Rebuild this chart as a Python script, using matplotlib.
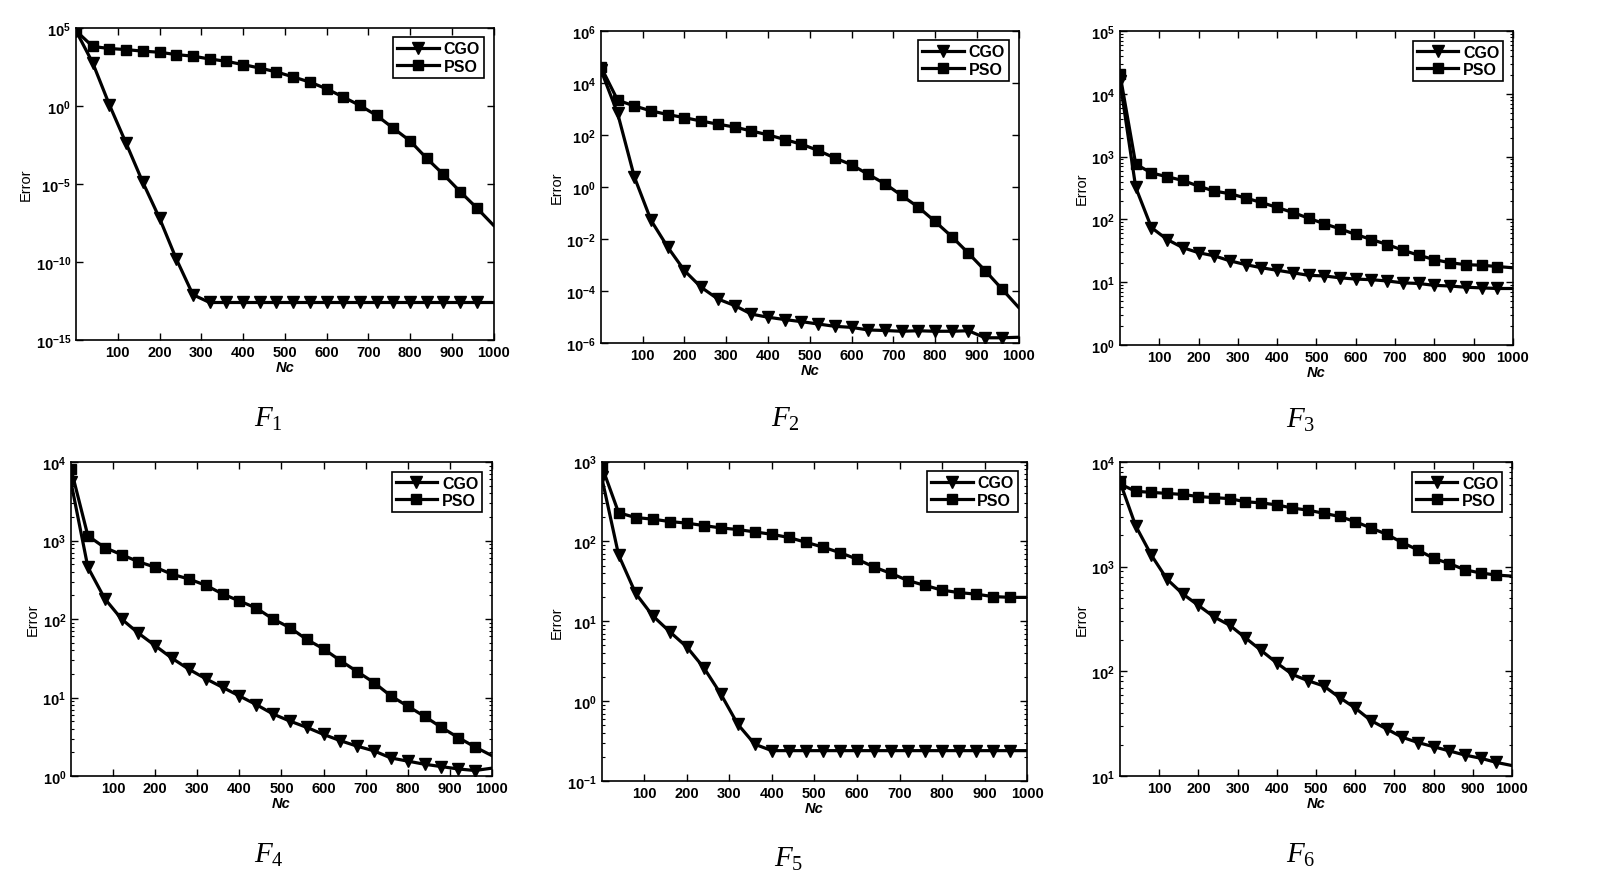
import numpy as np
import matplotlib
matplotlib.use("Agg")
import matplotlib.pyplot as plt
from matplotlib.ticker import FixedLocator, FuncFormatter, NullLocator, LogLocator

plt.rcParams['font.family'] = ['Liberation Sans', 'DejaVu Sans']
plt.rcParams['mathtext.fontset'] = 'custom'
plt.rcParams['mathtext.bf'] = 'Liberation Sans:bold'
plt.rcParams['mathtext.it'] = 'Liberation Serif:italic'
plt.rcParams['mathtext.sf'] = 'Liberation Serif'

# iterations (markers every 40, line ends at 1000)
nc = list(range(0, 1001, 40))

# log10(error)
f1_cgo = [4.8, 2.75, 0.06, -2.4, -4.9, -7.2, -9.8, -12.1, -12.6, -12.6, -12.6, -12.6, -12.6,
          -12.6, -12.6, -12.6, -12.6, -12.6, -12.6, -12.6, -12.6, -12.6, -12.6, -12.6, -12.6, -12.6]
f1_pso = [4.8, 3.8, 3.67, 3.6, 3.5, 3.43, 3.28, 3.18, 3.0, 2.85, 2.64, 2.42, 2.17, 1.85, 1.52,
          1.09, 0.56, 0.02, -0.62, -1.44, -2.25, -3.37, -4.4, -5.5, -6.55, -7.66]
f2_cgo = [4.49, 2.82, 0.38, -1.29, -2.32, -3.22, -3.86, -4.31, -4.56, -4.89, -5.01, -5.1, -5.18,
          -5.27, -5.36, -5.4, -5.5, -5.52, -5.55, -5.53, -5.55, -5.55, -5.53, -5.8, -5.8, -5.78]
f2_pso = [4.61, 3.33, 3.11, 2.92, 2.78, 2.66, 2.53, 2.41, 2.30, 2.15, 2.0, 1.82, 1.64, 1.40, 1.11,
          0.85, 0.48, 0.12, -0.33, -0.78, -1.33, -1.91, -2.55, -3.22, -3.92, -4.63]
f3_cgo = [4.2, 2.51, 1.87, 1.68, 1.55, 1.47, 1.42, 1.34, 1.28, 1.23, 1.19, 1.15, 1.11, 1.10, 1.07,
          1.05, 1.04, 1.02, 0.99, 0.98, 0.95, 0.94, 0.92, 0.91, 0.90, 0.90]
f3_pso = [4.31, 2.88, 2.74, 2.68, 2.62, 2.53, 2.45, 2.41, 2.34, 2.27, 2.19, 2.11, 2.02, 1.93, 1.85,
          1.76, 1.68, 1.60, 1.51, 1.43, 1.36, 1.31, 1.28, 1.27, 1.25, 1.23]
f4_cgo = [3.74, 2.66, 2.26, 2.0, 1.82, 1.66, 1.50, 1.36, 1.24, 1.13, 1.02, 0.91, 0.79, 0.70, 0.62,
          0.53, 0.45, 0.38, 0.32, 0.23, 0.19, 0.15, 0.12, 0.09, 0.07, 0.1]
f4_pso = [3.91, 3.06, 2.91, 2.82, 2.73, 2.66, 2.57, 2.51, 2.43, 2.32, 2.23, 2.14, 2.0, 1.89, 1.74,
          1.62, 1.47, 1.33, 1.19, 1.02, 0.89, 0.76, 0.62, 0.49, 0.37, 0.26]
f5_cgo = [2.81, 1.83, 1.35, 1.07, 0.87, 0.68, 0.42, 0.09, -0.29, -0.54, -0.62, -0.62, -0.62, -0.62,
          -0.62, -0.62, -0.62, -0.62, -0.62, -0.62, -0.62, -0.62, -0.62, -0.62, -0.62, -0.62]
f5_pso = [2.95, 2.36, 2.30, 2.28, 2.25, 2.23, 2.20, 2.17, 2.15, 2.12, 2.09, 2.05, 1.99, 1.93, 1.86,
          1.78, 1.68, 1.60, 1.51, 1.45, 1.39, 1.36, 1.34, 1.31, 1.30, 1.30]
f6_cgo = [3.81, 3.39, 3.11, 2.88, 2.74, 2.63, 2.52, 2.44, 2.32, 2.20, 2.08, 1.97, 1.91, 1.86, 1.75,
          1.65, 1.53, 1.45, 1.37, 1.32, 1.28, 1.24, 1.20, 1.17, 1.13, 1.10]
f6_pso = [3.79, 3.72, 3.71, 3.70, 3.69, 3.67, 3.66, 3.65, 3.62, 3.61, 3.59, 3.56, 3.54, 3.51, 3.48,
          3.43, 3.37, 3.31, 3.23, 3.16, 3.08, 3.03, 2.97, 2.94, 2.92, 2.91]

panels = [
    # cgo, pso, (ymin, ymax exp), y tick exps, minor ticks, axes rect, caption, caption pos
    (f1_cgo, f1_pso, (-15, 5), [-15, -10, -5, 0, 5], False, [0.0475, 0.6156, 0.261, 0.352], r'$\mathit{F}_{\mathsf{1}}$', (0.168, 0.528)),
    (f2_cgo, f2_pso, (-6, 6), [-6, -4, -2, 0, 2, 4, 6], False, [0.3756, 0.6122, 0.261, 0.352], r'$\mathit{F}_{\mathsf{2}}$', (0.491, 0.528)),
    (f3_cgo, f3_pso, (0, 5), [0, 1, 2, 3, 4, 5], True, [0.700, 0.6099, 0.2456, 0.354], r'$\mathit{F}_{\mathsf{3}}$', (0.813, 0.526)),
    (f4_cgo, f4_pso, (0, 4), [0, 1, 2, 3, 4], True, [0.0444, 0.124, 0.263, 0.354], r'$\mathit{F}_{\mathsf{4}}$', (0.168, 0.036)),
    (f5_cgo, f5_pso, (-1, 3), [-1, 0, 1, 2, 3], True, [0.376, 0.1184, 0.266, 0.360], r'$\mathit{F}_{\mathsf{5}}$', (0.493, 0.032)),
    (f6_cgo, f6_pso, (1, 4), [1, 2, 3, 4], True, [0.700, 0.124, 0.245, 0.354], r'$\mathit{F}_{\mathsf{6}}$', (0.813, 0.036)),
]

fig = plt.figure(figsize=(16, 8.87), dpi=100)

for cgo, pso, (lo, hi), yt, minor, rect, cap, cpos in panels:
    ax = fig.add_axes(rect)
    ax.plot(nc, 10.0 ** np.array(cgo), color='black', lw=2.3, marker='v', ms=9,
            markevery=slice(0, len(nc) - 1), label='CGO')
    ax.plot(nc, 10.0 ** np.array(pso), color='black', lw=2.3, marker='s', ms=7,
            markevery=slice(0, len(nc) - 1), label='PSO')
    ax.set_yscale('log')
    ax.set_xlim(0, 1000)
    ax.set_ylim(10.0 ** lo, 10.0 ** hi)
    ax.xaxis.set_major_locator(FixedLocator(list(range(100, 1001, 100))))
    ax.yaxis.set_major_locator(FixedLocator([10.0 ** e for e in yt]))
    ax.yaxis.set_major_formatter(FuncFormatter(lambda v, p: r'$\mathbf{10^{%d}}$' % round(np.log10(v))))
    if minor:
        ax.yaxis.set_minor_locator(LogLocator(base=10, subs=np.arange(2, 10)))
    else:
        ax.yaxis.set_minor_locator(NullLocator())
    ax.yaxis.set_minor_formatter(FuncFormatter(lambda v, p: ''))
    ax.tick_params(which='both', direction='in', top=True, right=True, labelsize=10.5)
    ax.tick_params(which='major', length=5, width=1)
    ax.tick_params(which='minor', length=2.5, width=0.8)
    for lab in ax.get_xticklabels():
        lab.set_fontweight('bold')
    for s in ax.spines.values():
        s.set_linewidth(1.2)
    ax.set_xlabel('Nc', fontsize=10.5, fontweight='bold', style='italic', labelpad=1)
    ax.set_ylabel('Error', fontsize=10.5, labelpad=2)
    leg = ax.legend(loc='upper right', prop={'weight': 'bold', 'size': 11.5},
                    fancybox=False, edgecolor='black', framealpha=1, borderpad=0.25,
                    handlelength=2.6, handletextpad=0.3, labelspacing=0.15, borderaxespad=0.6)
    leg.get_frame().set_linewidth(1.2)
    fig.text(cpos[0], cpos[1], cap, fontsize=21, ha='center', va='center')

fig.savefig('out.png', dpi=100)
